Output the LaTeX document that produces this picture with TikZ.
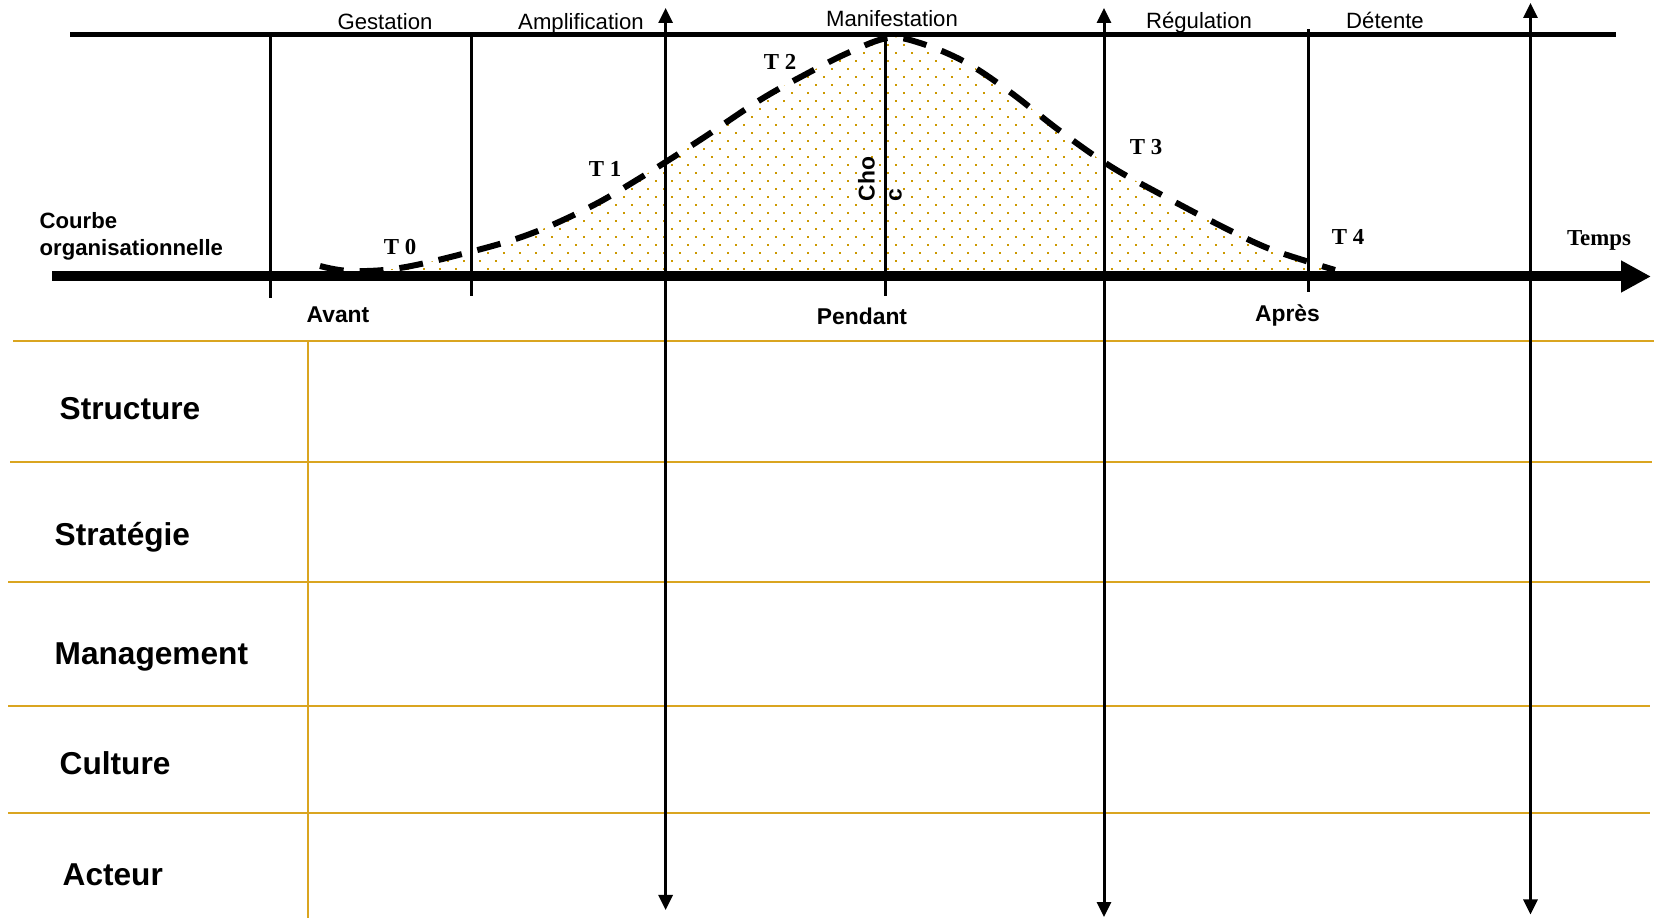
\documentclass[tikz,border=0pt]{standalone}
\usepackage{fontspec}
\setmainfont{Liberation Sans}
\newfontfamily\timesfont{Liberation Serif}
\usetikzlibrary{arrows.meta}
\definecolor{rulegold}{RGB}{218,165,32}
\definecolor{dotgold}{RGB}{204,153,0}

\newcommand\crisiscurve{plot[smooth, tension=0.6] coordinates {
  (3.20,6.52) (3.50,6.47) (4.00,6.50) (4.70,6.66) (5.30,6.84) (5.90,7.11)
  (6.40,7.40) (7.00,7.78) (7.60,8.18) (8.10,8.46) (8.50,8.66) (8.88,8.80)
  (9.20,8.75) (9.65,8.56) (10.10,8.26) (10.60,7.87) (11.10,7.52) (11.60,7.24)
  (12.15,6.95) (12.65,6.71) (13.09,6.56) (13.35,6.48)}}

\begin{document}
\begin{tikzpicture}[
  x=1cm, y=1cm,
  every node/.style={inner sep=0pt},
  frame/.style={draw, line width=0.05cm},
  timeaxis/.style={draw, line width=0.1cm, -{Triangle[length=0.3cm, width=0.3cm]}},
  bar/.style={draw, line width=0.03cm},
  span/.style={draw, line width=0.03cm,
    {Triangle[length=0.15cm, width=0.14cm]}-{Triangle[length=0.15cm, width=0.14cm]}},
  rule/.style={draw=rulegold, line width=0.02cm},
  crisis/.style={draw, line width=0.06cm, dash pattern=on 0.24cm off 0.16cm},
  phaselbl/.style={anchor=base, font=\fontsize{6.3}{7.5}\selectfont},
  tlbl/.style={anchor=base, font=\timesfont\bfseries\fontsize{6.5}{7.5}\selectfont},
  periodlbl/.style={anchor=base, font=\bfseries\fontsize{6.5}{7.5}\selectfont},
  rowlbl/.style={anchor=base west, font=\bfseries\fontsize{9}{10.5}\selectfont}]

  \useasboundingbox (0,0) rectangle (16.54,9.18);

  %% ---------------- table ----------------
  \draw[rule] (0.13,5.773) -- (16.54,5.773);
  \draw[rule] (0.10,4.56) -- (16.52,4.56);
  \draw[rule] (0.08,3.36) -- (16.50,3.36);
  \draw[rule] (0.08,2.123) -- (16.50,2.123);
  \draw[rule] (0.08,1.05) -- (16.50,1.05);
  \draw[rule] (3.08,5.773) -- (3.08,0);
  % row labels
  \node[rowlbl] (structure)  at (0.59,4.98) {Structure};
  \node[rowlbl] (strategie)  at (0.54,3.724) {Stratégie};
  \node[rowlbl] (management) at (0.54,2.532) {Management};
  \node[rowlbl] (culture)    at (0.59,1.43) {Culture};
  \node[rowlbl] (acteur)     at (0.62,0.32) {Acteur};

  %% ---------------- curve ----------------
  % dotted area under the curve
  \begin{scope}
    \clip \crisiscurve -- (13.35,6.46) -- (3.20,6.46) -- cycle;
    \foreach \r in {0,...,29}
      \foreach \c in {0,...,63}
        \fill[dotgold] ({3.107-0.08*mod(\r,2)+0.16*\c}, {6.48+0.08*\r}) rectangle ++(0.02,0.02);
  \end{scope}
  \draw[crisis] \crisiscurve;

  %% ---------------- frame ----------------
  % end points
  \coordinate (tl) at (0.70,8.83);
  \coordinate (tr) at (16.16,8.83);
  \coordinate (ax0) at (0.52,6.415);
  \coordinate (ax1) at (16.51,6.415);
  \coordinate (g0) at (2.70,8.83);
  \coordinate (g1) at (2.70,6.195);
  \coordinate (a0) at (4.715,8.83);
  \coordinate (a1) at (4.715,6.22);
  \coordinate (c0) at (8.85,8.80);
  \coordinate (c1) at (8.85,6.22);
  \coordinate (d0) at (13.08,8.885);
  \coordinate (d1) at (13.08,6.26);
  \coordinate (s1t) at (6.656,9.10);
  \coordinate (s1b) at (6.656,0.08);
  \coordinate (s2t) at (11.04,9.10);
  \coordinate (s2b) at (11.04,0.01);
  \coordinate (s3t) at (15.305,9.15);
  \coordinate (s3b) at (15.305,0.035);
  % lines
  \draw[frame] (tl) -- (tr);
  \draw[bar] (g0) -- (g1);
  \draw[bar] (a0) -- (a1);
  \draw[bar] (c0) -- (c1);
  \draw[bar] (d0) -- (d1);
  \draw[span] (s1b) -- (s1t);
  \draw[span] (s2b) -- (s2t);
  \draw[span] (s3b) -- (s3t);
  \draw[timeaxis] (ax0) -- (ax1);

  %% ---------------- labels ----------------
  % phases
  \node[phaselbl] (gestation) at (3.85,8.88) {Gestation};
  \node[phaselbl] (amplif)    at (5.81,8.88) {Amplification};
  \node[phaselbl] (manif)     at (8.92,8.91) {Manifestation};
  \node[phaselbl] (regul)     at (11.99,8.89) {Régulation};
  \node[phaselbl] (detente)   at (13.85,8.89) {Détente};
  % curve
  \node[anchor=north west, align=left, font=\bfseries\fontsize{6.3}{7.65}\selectfont]
    (courbe) at (0.39,7.06) {Courbe\\organisationnelle};
  \node[tlbl] (t0) at (4.00,6.63) {T 0};
  \node[tlbl] (t1) at (6.05,7.41) {T 1};
  \node[tlbl] (t2) at (7.80,8.48) {T 2};
  \node[tlbl] (t3) at (11.46,7.63) {T 3};
  \node[tlbl] (t4) at (13.48,6.73) {T 4};
  \node[tlbl] (temps) at (15.99,6.72) {Temps};
  \node[anchor=west, rotate=90, align=left, font=\bfseries\fontsize{6.5}{7.7}\selectfont]
    (choc) at (8.80,7.16) {Cho\\c};
  % periods
  \node[periodlbl] (avant)   at (3.38,5.953) {Avant};
  \node[periodlbl] (pendant) at (8.62,5.93) {Pendant};
  \node[periodlbl] (apres)   at (12.875,5.96) {Après};

\end{tikzpicture}
\end{document}
